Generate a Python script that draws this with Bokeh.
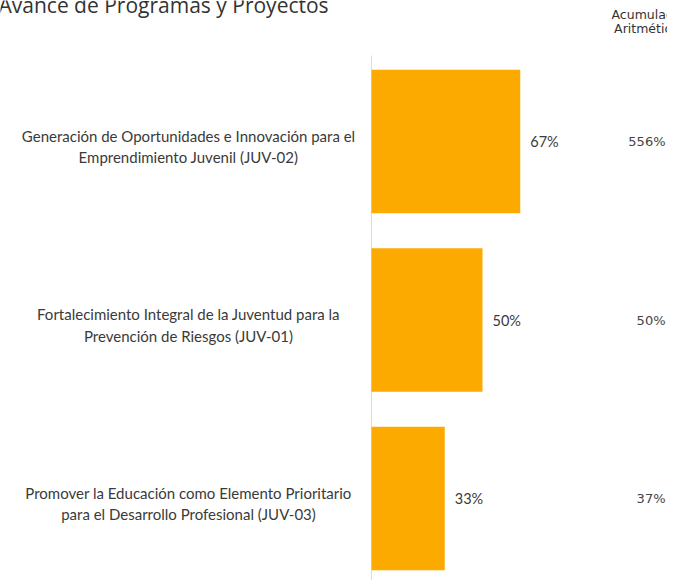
from bokeh.plotting import figure
from bokeh.models import Range1d, ColumnDataSource
from bokeh.core.properties import value
from bokeh.embed import file_html
from bokeh.resources import INLINE

# ---- data ----
titulo = "Avance de Programas y Proyectos"
encabezado = "Acumulado\nAritmético"
categorias = [
    "Generación de Oportunidades e Innovación para el\nEmprendimiento Juvenil (JUV-02)",
    "Fortalecimiento Integral de la Juventud para la\nPrevención de Riesgos (JUV-01)",
    "Promover la Educación como Elemento Prioritario\npara el Desarrollo Profesional (JUV-03)",
]
avance = [67, 50, 33]
acumulado = [556, 50, 37]

# ---- layout ----
W, H = 667, 580
PX = 2.22          # pixels per percent
X0 = 371           # pixel position of the zero line
PY = 178.5         # pixels per category slot
TOP_C = 141        # pixel position of first category centre

n = len(categorias)
ypos = [n - i for i in range(n)]
y_end = n + TOP_C / PY
y_start = y_end - H / PY
x_start = -X0 / PX
x_end = (W - X0) / PX

def px_to_x(px):
    return x_start + px / PX

def py_to_y(py):
    return y_end - py / PY

src = ColumnDataSource(dict(
    y=ypos,
    cat=categorias,
    avance=avance,
    avance_lbl=[f"{v}%" for v in avance],
    acum_lbl=[f"{v}%" for v in acumulado],
))

p = figure(width=W, height=H, output_backend="svg", toolbar_location=None,
           x_range=Range1d(x_start, x_end), y_range=Range1d(y_start, y_end),
           min_border=0, outline_line_color=None)
p.axis.visible = False
p.grid.visible = False
p.background_fill_color = "white"
p.border_fill_color = "white"

TXT = "#3a3a3a"
BAR = "#FCAA00"

# vertical zero axis line
p.segment(x0=[0], y0=[py_to_y(55)], x1=[0], y1=[y_start],
          line_color="#dcdcdc", line_width=1)

p.hbar(y="y", left=0, right="avance", height=0.804, source=src,
       fill_color=BAR, line_color=None)

p.text(x="avance", y="y", text="avance_lbl", source=src, x_offset=10,
       text_align="left", text_baseline="middle",
       text_font=value("Lato"), text_font_size="14.5px", text_color=TXT)

p.text(x=px_to_x(188), y="y", text="cat", source=src, y_offset=5,
       text_align="center", text_baseline="middle",
       text_font=value("Lato"), text_font_size="15px", text_color=TXT,
       text_line_height=1.2)

p.text(x=px_to_x(665), y="y", text="acum_lbl", source=src,
       text_align="right", text_baseline="middle",
       text_font=value("DejaVu Sans"), text_font_size="13px", text_color="#444444")

p.text(x=[px_to_x(646)], y=[py_to_y(21)], text=[encabezado],
       text_align="center", text_baseline="middle",
       text_font=value("DejaVu Sans"), text_font_size="12.5px", text_color="#333333",
       text_line_height=0.95)

p.text(x=[px_to_x(-2)], y=[py_to_y(4)], text=[titulo],
       text_align="left", text_baseline="alphabetic",
       text_font=value("Open Sans"), text_font_size="21px", text_color="#333333")

open("out.html", "w").write(file_html(p, INLINE))
